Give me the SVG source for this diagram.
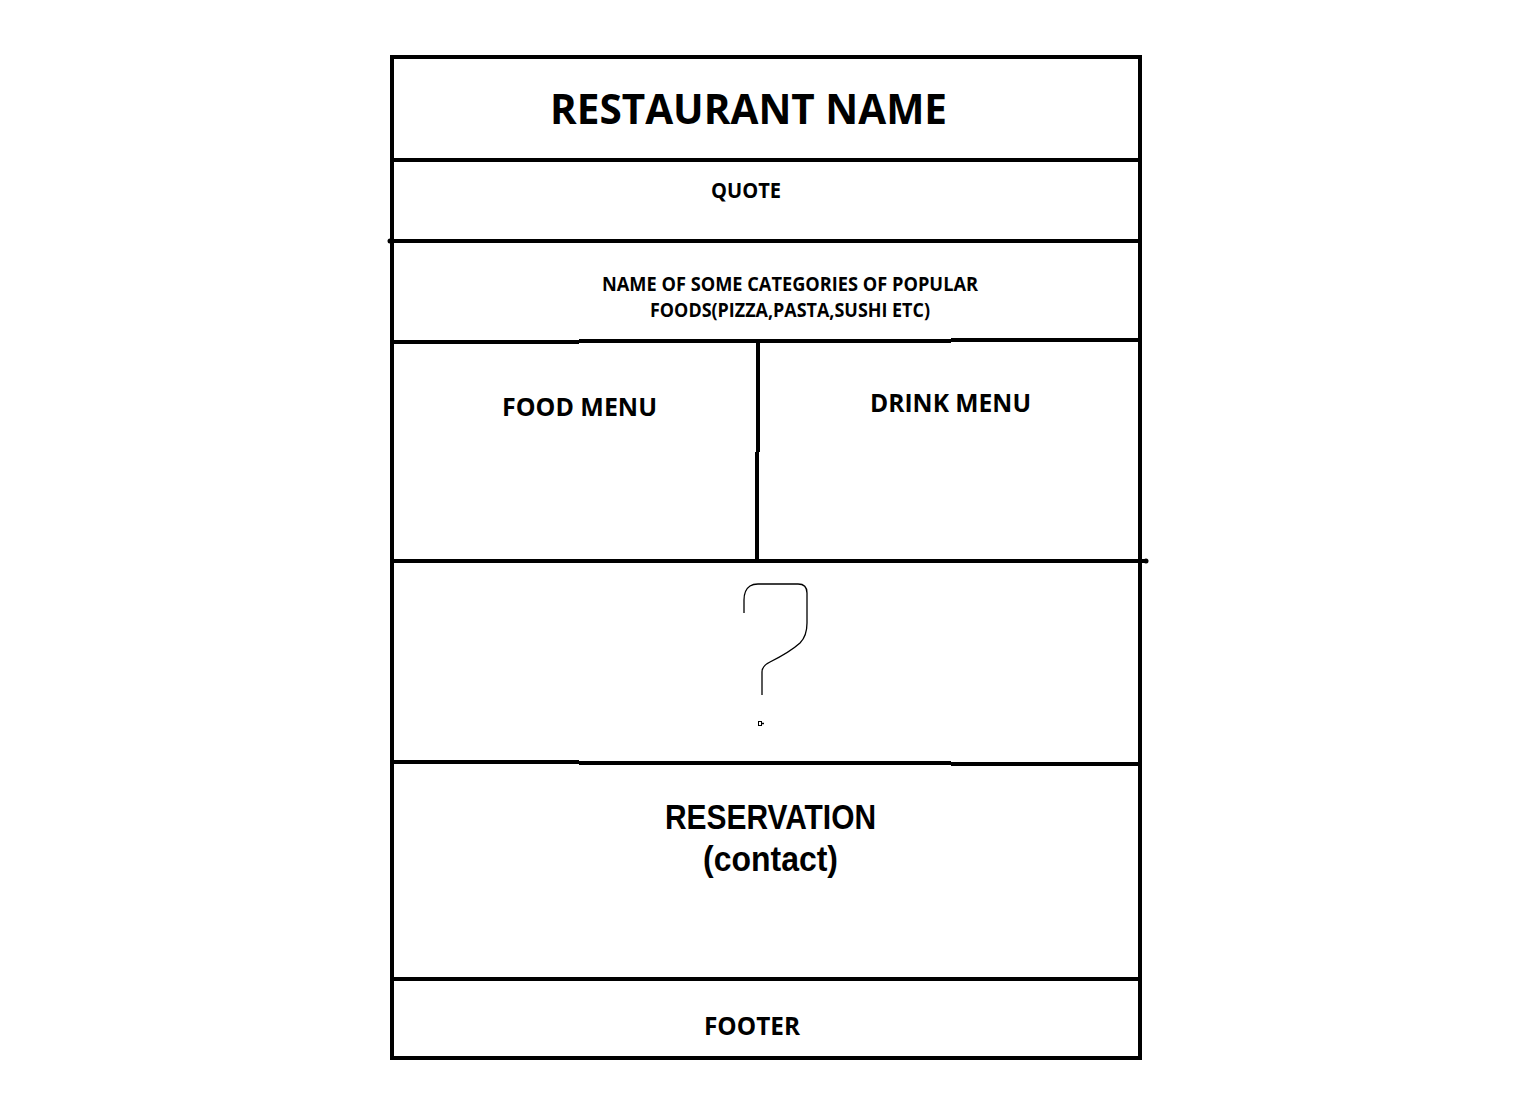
<svg xmlns="http://www.w3.org/2000/svg" width="1532" height="1097" viewBox="0 0 1532 1097">
<style>
.ln{stroke:#000;stroke-width:4;fill:none;stroke-linecap:butt}
.t{font-family:"Open Sans","Liberation Sans",sans-serif;font-weight:bold;fill:#000;text-anchor:middle}
.r{font-family:"Liberation Sans",Arial,sans-serif;font-weight:bold;fill:#000;text-anchor:middle}
.q{stroke:#000;stroke-width:1.3;fill:none}
</style>
<rect width="1532" height="1097" fill="#fff"/>
<g id="connectors">
<path class="ln" d="M392 55V1060M390 57H1142M1140 55V1060M390 1058H1142"/>
<path class="ln" d="M392 160H1140"/>
<path class="ln" d="M389 241H1140"/>
<circle cx="390" cy="241" r="2.5"/>
<path class="ln" d="M392 342H579M579 341H951M951 340H1140"/>
<path class="ln" d="M758 341V452M757 452V563"/>
<path class="ln" d="M392 561H1146"/>
<circle cx="1146" cy="561" r="2.5"/>
<path class="ln" d="M392 762H579M579 763H951M951 764H1140"/>
<path class="ln" d="M392 979H1140"/>
</g>
<g id="header"><text class="t" x="748.5" y="124" font-size="42" textLength="397" lengthAdjust="spacingAndGlyphs">RESTAURANT NAME</text></g>
<g id="quote"><text class="t" x="746" y="198" font-size="22" textLength="70" lengthAdjust="spacingAndGlyphs">QUOTE</text></g>
<g id="categories">
<text class="t" x="790" y="291" font-size="19" textLength="376" lengthAdjust="spacingAndGlyphs">NAME OF SOME CATEGORIES OF POPULAR</text>
<text class="t" x="790" y="317" font-size="19" textLength="280" lengthAdjust="spacingAndGlyphs">FOODS(PIZZA,PASTA,SUSHI ETC)</text>
</g>
<g id="food-menu"><text class="t" x="579.5" y="416" font-size="25" textLength="155" lengthAdjust="spacingAndGlyphs">FOOD MENU</text></g>
<g id="drink-menu"><text class="t" x="950.5" y="412" font-size="25" textLength="161" lengthAdjust="spacingAndGlyphs">DRINK MENU</text></g>
<g id="unknown">
<path class="q" d="M744 613V600Q744 590 750 586Q753 584 758 584H798Q807 584 807 593V623Q807 636 800 643Q790 652 770 662Q762 666 762 672V695"/>
<rect x="758.5" y="721.5" width="3" height="4" fill="none" stroke="#000" stroke-width="1"/>
<path class="q" d="M762 723.5H764"/>
</g>
<g id="reservation">
<text class="r" x="770.5" y="829" font-size="35" textLength="211" lengthAdjust="spacingAndGlyphs">RESERVATION</text>
<text class="r" x="770.5" y="871" font-size="35" textLength="135" lengthAdjust="spacingAndGlyphs">(contact)</text>
</g>
<g id="footer"><text class="t" x="752" y="1035" font-size="25" textLength="96" lengthAdjust="spacingAndGlyphs">FOOTER</text></g>
</svg>
